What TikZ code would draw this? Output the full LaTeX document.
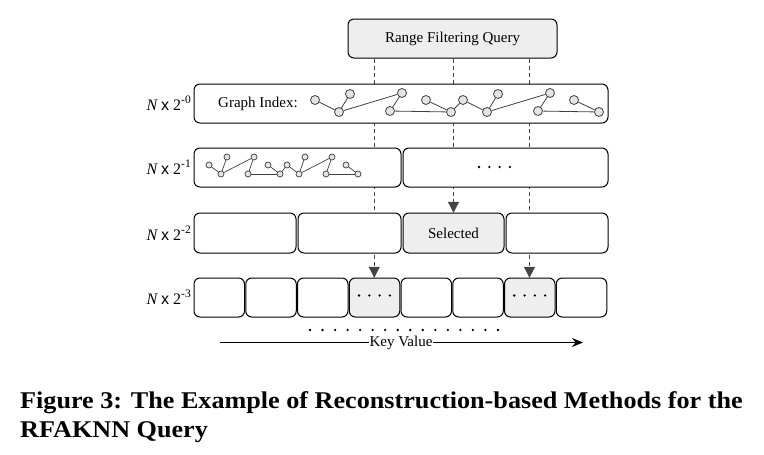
\documentclass[tikz,border=0pt]{standalone}
\usepackage{fontspec}
\setmainfont{Liberation Serif}
\setsansfont{Liberation Sans}
\usepackage{graphicx}
\usetikzlibrary{arrows.meta,calc}
\definecolor{boxgray}{HTML}{EEEEEE}
\definecolor{nodegray}{HTML}{E4E4E4}
\definecolor{dashgray}{HTML}{444444}
\tikzset{
  box/.style={draw=black, line width=1pt, rounded corners=6pt, fill=white, inner sep=0pt, minimum height=39pt},
  graybox/.style={box, fill=boxgray},
  lbl/.style={anchor=east, inner sep=0pt, font=\fontsize{16}{18}\selectfont},
  txt/.style={inner sep=0pt, font=\fontsize{15}{17}\selectfont},
  gbig/.style={circle, draw=black!75, fill=nodegray, line width=0.8pt, minimum size=9pt, inner sep=0pt},
  gsmall/.style={circle, draw=black!75, fill=nodegray, line width=0.7pt, minimum size=6pt, inner sep=0pt},
  gedge/.style={draw=black!75, line width=0.8pt},
  qline/.style={draw=dashgray, line width=1pt, dash pattern=on 4pt off 3pt},
  qarrow/.style={qline, -{Triangle[width=11pt,length=11pt]}, dashgray},
  dotmark/.style={circle, fill=black, inner sep=0pt, minimum size=2.6pt},
}
\newcommand{\rowlabel}[1]{{\itshape N} {\sffamily x} 2\raisebox{0.45em}{\fontsize{11.5}{12}\selectfont -#1}}
\begin{document}
\begin{tikzpicture}[x=1pt, y=-1pt]
\useasboundingbox (0,0) rectangle (764,455);

% query box
\node[graybox, minimum width=209pt] (q) at (452.5,38.5) {};
\node[txt] (qt) at (q.center) {Range Filtering Query};

% row 3 positions
\foreach \i in {1,...,8} {
  \coordinate (c3\i) at ({219.25+51.75*(\i-1)},297.5);
}

% dashed connectors (drawn first, boxes cover them)
\node[inner sep=0pt, minimum size=0pt] (r34p) at (374.25,278) {};
\node[inner sep=0pt, minimum size=0pt] (r23p) at (453.5,213) {};
\node[inner sep=0pt, minimum size=0pt] (r37p) at (529.5,278) {};
\draw[qarrow] (q.south -| r34p) -- (r34p);
\draw[qarrow] (q.south -| r23p) -- (r23p);
\draw[qarrow] (q.south -| r37p) -- (r37p);

% row 0
\node[box, minimum width=414pt] (r0) at (401,103.5) {};
\node[txt, anchor=west] (gi) at (218,103.5) {Graph Index:};
% row 0 graph
\foreach \k/\dx in {0/0,1/148} {
  \node[gbig] (a\k1) at ({315+\dx},100) {};
  \node[gbig] (a\k2) at ({339+\dx},112) {};
  \node[gbig] (a\k3) at ({350+\dx},94) {};
  \node[gbig] (a\k4) at ({402+\dx},93) {};
  \node[gbig] (a\k5) at ({390+\dx},111) {};
  \node[gbig] (a\k6) at ({451+\dx},112) {};
  \node[gbig] (a\k7) at ({426+\dx},100) {};
}
\foreach \k in {0,1} {
  \draw[gedge] (a\k1) -- (a\k2);
  \draw[gedge] (a\k2) -- (a\k3);
  \draw[gedge] (a\k2) -- (a\k4);
  \draw[gedge] (a\k4) -- (a\k5);
  \draw[gedge] (a\k5) -- (a\k6);
  \draw[gedge] (a\k7) -- (a\k6);
}
\draw[gedge] (a06) -- (a11);

% row 1
\node[box, minimum width=207pt] (r1a) at (297.5,167.5) {};
\node[box, minimum width=205pt] (r1b) at (505.5,167.5) {};
\foreach \k/\dx in {0/0,1/78} {
  \node[gsmall] (b\k1) at ({209+\dx},165) {};
  \node[gsmall] (b\k2) at ({221+\dx},174) {};
  \node[gsmall] (b\k3) at ({227+\dx},157) {};
  \node[gsmall] (b\k4) at ({254+\dx},157) {};
  \node[gsmall] (b\k5) at ({248+\dx},174) {};
  \node[gsmall] (b\k6) at ({280+\dx},174) {};
  \node[gsmall] (b\k7) at ({268+\dx},165) {};
}
\foreach \k in {0,1} {
  \draw[gedge, line width=0.7pt] (b\k1) -- (b\k2);
  \draw[gedge, line width=0.7pt] (b\k2) -- (b\k3);
  \draw[gedge, line width=0.7pt] (b\k2) -- (b\k4);
  \draw[gedge, line width=0.7pt] (b\k4) -- (b\k5);
  \draw[gedge, line width=0.7pt] (b\k5) -- (b\k6);
  \draw[gedge, line width=0.7pt] (b\k7) -- (b\k6);
}
\draw[gedge, line width=0.7pt] (b06) -- (b11);
\foreach \i in {0,...,3} {
  \node[dotmark] (d1\i) at ({479+10.3*\i},167) {};
}

% row 2
\node[box, minimum width=102pt, minimum height=40pt] (r21) at (245,233) {};
\node[box, minimum width=103pt, minimum height=40pt] (r22) at (349.5,233) {};
\node[graybox, minimum width=101pt, minimum height=40pt] (r23) at (453.5,233) {};
\node[box, minimum width=102pt, minimum height=40pt] (r24) at (557,233) {};
\node[txt] (sel) at (r23.center) {Selected};

% row 3
\foreach \i in {1,2,3,5,6,8} {
  \node[box, minimum width=50.5pt] (r3\i) at (c3\i) {};
}
\foreach \i in {4,7} {
  \node[graybox, minimum width=50.5pt] (r3\i) at (c3\i) {};
  \foreach \j in {0,...,3} {
    \node[dotmark] (d3\i\j) at ($(c3\i)+({-15.5+10.3*\j},-2)$) {};
  }
}

% row labels
\node[lbl] (l0) at (191,103.5) {\rowlabel{0}};
\node[lbl] (l1) at (191,167.5) {\rowlabel{1}};
\node[lbl] (l2) at (191,233) {\rowlabel{2}};
\node[lbl] (l3) at (191,297.5) {\rowlabel{3}};

% bottom dots
\foreach \i in {0,...,15} {
  \node[dotmark] (bd\i) at ({310+12.53*\i},330) {};
}

% key value axis
\coordinate (kvs) at (220,342.5);
\coordinate (kve) at (583,342.5);
\draw[line width=1pt, -{Stealth[width=9pt,length=11pt]}] (kvs) -- (kve);
\node[txt, fill=white, inner xsep=1pt, inner ysep=1pt] (kv) at (401,342.5) {Key Value};

% caption
\node[anchor=base west, inner sep=0pt] (cap1) at (20,408) {\fontsize{24}{29}\selectfont\bfseries\scalebox{1.09}[1]{Figure 3: The Example of Reconstruction-based Methods for the}};
\node[anchor=base west, inner sep=0pt] (cap2) at (20,437) {\fontsize{24}{29}\selectfont\bfseries\scalebox{1.09}[1]{RFAKNN Query}};
\end{tikzpicture}
\end{document}
